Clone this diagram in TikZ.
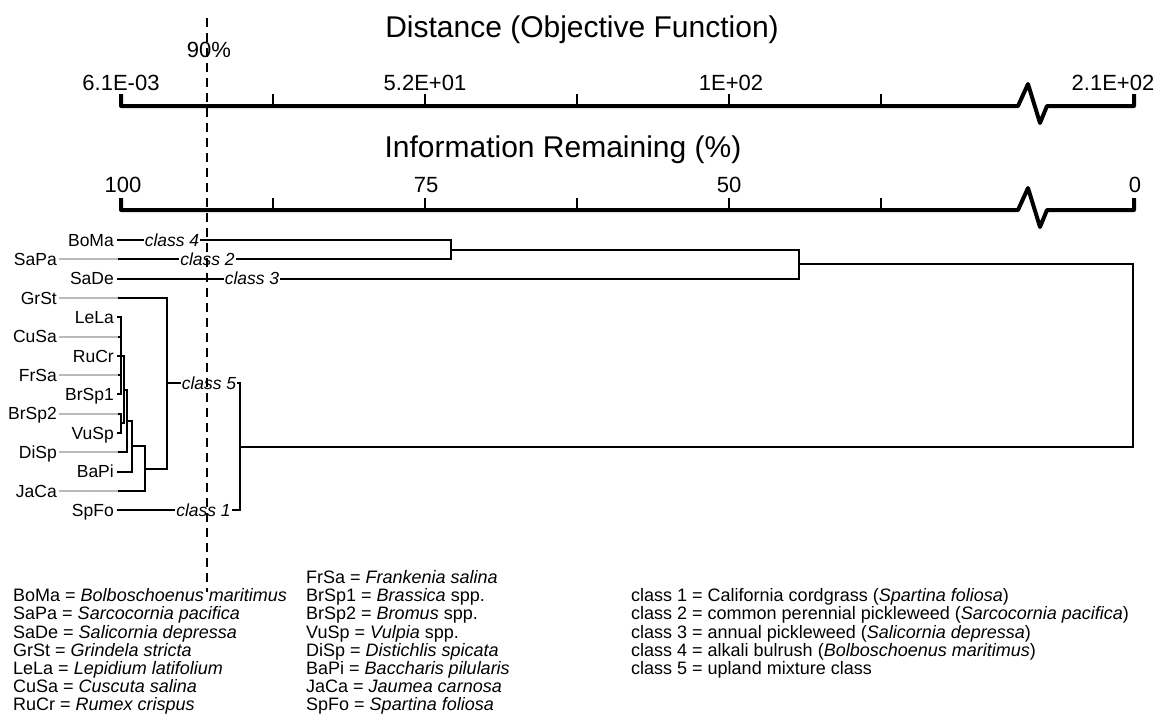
\documentclass[tikz,border=0pt]{standalone}
\usepackage{fontspec}
\setmainfont{Liberation Sans}
\begin{document}
\begin{tikzpicture}[x=1pt,y=-1pt,
  axisline/.style={line width=4pt, line join=round},
  tickmark/.style={line width=2.2pt},
  dline/.style={line width=2pt},
  gline/.style={line width=2pt, color=black!27},
  titletext/.style={font=\fontsize{30}{32}\selectfont, inner sep=0pt, anchor=base},
  ticktext/.style={font=\fontsize{22}{24}\selectfont, inner sep=0pt, anchor=base},
  leaf/.style={font=\fontsize{17.5}{18}\selectfont, inner sep=0pt, text height=12.5pt, text depth=0pt, anchor=east},
  cls/.style={font=\fontsize{17.5}{18}\selectfont\itshape, inner sep=1pt, text height=12.5pt, text depth=0pt},
  legtext/.style={font=\fontsize{18}{18}\selectfont, inner sep=0pt, anchor=base west},
  cutline/.style={line width=2.2pt, dash pattern=on 9pt off 6pt}
]
\useasboundingbox (0,0) rectangle (1165,721);

% ---------- axes ----------
\node[titletext] (t1) at (582,37) {Distance (Objective Function)};
\node[titletext] (t2) at (563,157) {Information Remaining (\%)};

\draw[axisline] (121,94) -- (121,106) -- (1018,106) -- (1028,84) -- (1040,123) -- (1047,106) -- (1134,106) -- (1134,94);
\draw[axisline] (121,198) -- (121,210) -- (1018,210) -- (1028,188) -- (1040,227) -- (1047,210) -- (1134,210) -- (1134,198);
\foreach \x in {273,425,577,729,881}{
  \draw[tickmark] (\x,94) -- (\x,106);
  \draw[tickmark] (\x,198) -- (\x,210);
}
\node[ticktext] (d0) at (121,90) {6.1E-03};
\node[ticktext] (d1) at (425,90) {5.2E+01};
\node[ticktext] (d2) at (731,90) {1E+02};
\node[ticktext] (d3) at (1113,90) {2.1E+02};
\node[ticktext] (i0) at (123,192) {100};
\node[ticktext] (i1) at (426,192) {75};
\node[ticktext] (i2) at (729,192) {50};
\node[ticktext] (i3) at (1135,192) {0};
\node[ticktext] (p90) at (209,57) {90\%};

% ---------- leaves ----------
\node[leaf] (BoMa)  at (114,240)   {BoMa};
\node[leaf] (SaPa)  at (57,259.3)  {SaPa};
\node[leaf] (SaDe)  at (114,278.6) {SaDe};
\node[leaf] (GrSt)  at (57,297.9)  {GrSt};
\node[leaf] (LeLa)  at (114,317.2) {LeLa};
\node[leaf] (CuSa)  at (57,336.5)  {CuSa};
\node[leaf] (RuCr)  at (114,355.8) {RuCr};
\node[leaf] (FrSa)  at (57,375.1)  {FrSa};
\node[leaf] (BrSpa) at (114,394.4) {BrSp1};
\node[leaf] (BrSpb) at (57,413.7)  {BrSp2};
\node[leaf] (VuSp)  at (114,433)   {VuSp};
\node[leaf] (DiSp)  at (57,452.3)  {DiSp};
\node[leaf] (BaPi)  at (114,471.6) {BaPi};
\node[leaf] (JaCa)  at (57,490.9)  {JaCa};
\node[leaf] (SpFo)  at (114,510.2) {SpFo};

% class labels
\node[cls] (c4) at (172,240)     {class 4};
\node[cls] (c2) at (207.5,259.3) {class 2};
\node[cls] (c3) at (252,278.6)   {class 3};
\node[cls] (c5) at (209,383.2)   {class 5};
\node[cls] (c1) at (203.5,510.2) {class 1};

% joints
\coordinate (Lg) at (118,0);
\coordinate (A) at (121,355.8);
\coordinate (V) at (121,423.35);
\coordinate (B) at (124,389.6);
\coordinate (C) at (127,421);
\coordinate (D) at (132,446.3);
\coordinate (E) at (145,468.6);
\coordinate (F) at (167,383.2);
\coordinate (G) at (240,446.7);
\coordinate (H) at (451,249.65);
\coordinate (I) at (799,264.1);
\coordinate (R) at (1133,355.4);

% gray leaders
\foreach \n in {SaPa,GrSt,CuSa,FrSa,BrSpb,DiSp,JaCa}{
  \draw[gline] ([xshift=2pt]\n.east) -- (\n.east -| Lg);
}

% top group
\draw[dline] ([xshift=3pt]BoMa.east) -- (c4.west);
\draw[dline] (c4.east) -| (H);
\draw[dline] (SaPa.east -| Lg) -- (c2.west);
\draw[dline] (c2.east) -| (H);
\draw[dline] ([xshift=3pt]SaDe.east) -- (c3.west);
\draw[dline] (c3.east) -| (I);
\draw[dline] (H) -| (I);

% upland group
\draw[dline] ([xshift=3pt]LeLa.east) -| (A);
\draw[dline] (CuSa.east -| Lg) -| (A);
\draw[dline] (FrSa.east -| Lg) -| (A);
\draw[dline] ([xshift=3pt]BrSpa.east) -| (A);
\draw[dline] ([xshift=3pt]RuCr.east) -| (B);
\draw[dline] (A) -| (B);
\draw[dline] (BrSpb.east -| Lg) -| (V);
\draw[dline] ([xshift=3pt]VuSp.east) -| (V);
\draw[dline] (V) -| (B);
\draw[dline] (B) -| (C);
\draw[dline] (DiSp.east -| Lg) -| (C);
\draw[dline] (C) -| (D);
\draw[dline] ([xshift=3pt]BaPi.east) -| (D);
\draw[dline] (D) -| (E);
\draw[dline] (JaCa.east -| Lg) -| (E);
\draw[dline] (E) -| (F);
\draw[dline] (GrSt.east -| Lg) -| (F);
\draw[dline] (F) -- (c5.west);
\draw[dline] (c5.east) -| (G);
\draw[dline] ([xshift=3pt]SpFo.east) -- (c1.west);
\draw[dline] (c1.east) -| (G);

% root
\draw[dline] (I) -| (R);
\draw[dline] (G) -| (R);

% ---------- 90% cut line ----------
\coordinate (cutT) at (207,18);
\coordinate (cutB) at (207,592);
\draw[cutline] (cutT) -- (cutB);

% ---------- legend ----------
\node[legtext] (l1) at (13,601.6) {BoMa = \textit{Bolboschoenus maritimus}};
\node[legtext] (l2) at (13,619.8) {SaPa = \textit{Sarcocornia pacifica}};
\node[legtext] (l3) at (13,638)   {SaDe = \textit{Salicornia depressa}};
\node[legtext] (l4) at (13,656.2) {GrSt = \textit{Grindela stricta}};
\node[legtext] (l5) at (13,674.4) {LeLa = \textit{Lepidium latifolium}};
\node[legtext] (l6) at (13,692.6) {CuSa = \textit{Cuscuta salina}};
\node[legtext] (l7) at (13,710.8) {RuCr = \textit{Rumex crispus}};

\node[legtext] (m0) at (306,583.4) {FrSa = \textit{Frankenia salina}};
\node[legtext] (m1) at (306,601.6) {BrSp1 = \textit{Brassica} spp.};
\node[legtext] (m2) at (306,619.8) {BrSp2 = \textit{Bromus} spp.};
\node[legtext] (m3) at (306,638)   {VuSp = \textit{Vulpia} spp.};
\node[legtext] (m4) at (306,656.2) {DiSp = \textit{Distichlis spicata}};
\node[legtext] (m5) at (306,674.4) {BaPi = \textit{Baccharis pilularis}};
\node[legtext] (m6) at (306,692.6) {JaCa = \textit{Jaumea carnosa}};
\node[legtext] (m7) at (306,710.8) {SpFo = \textit{Spartina foliosa}};

\node[legtext] (k1) at (631,601.6) {class 1 = California cordgrass (\textit{Spartina foliosa})};
\node[legtext] (k2) at (631,619.8) {class 2 = common perennial pickleweed (\textit{Sarcocornia pacifica})};
\node[legtext] (k3) at (631,638)   {class 3 = annual pickleweed (\textit{Salicornia depressa})};
\node[legtext] (k4) at (631,656.2) {class 4 = alkali bulrush (\textit{Bolboschoenus maritimus})};
\node[legtext] (k5) at (631,674.4) {class 5 = upland mixture class};
\end{tikzpicture}
\end{document}
